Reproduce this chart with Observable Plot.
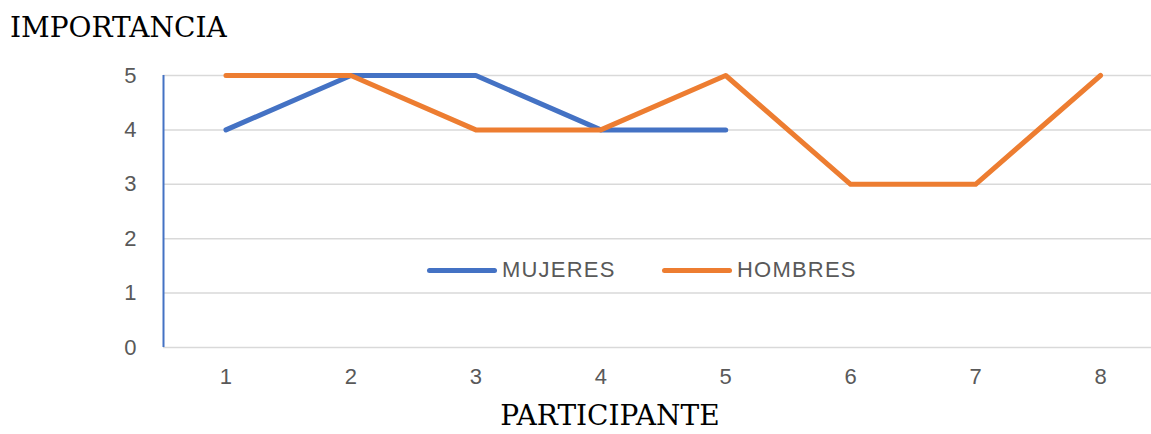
<!DOCTYPE html>
<html>
<head>
<meta charset="utf-8">
<script src="https://cdn.jsdelivr.net/npm/d3@7"></script>
<script src="https://cdn.jsdelivr.net/npm/@observablehq/plot@0.6"></script>
<style>
  html, body { margin: 0; padding: 0; background: #fff; }
  #wrap { position: relative; width: 1151px; height: 434px; overflow: hidden; }
  #wrap svg { position: absolute; left: 0; top: 0; }
  .ttl { position: absolute; font-family: "DejaVu Serif", "Liberation Serif", serif; font-size: 28px; line-height: 0.8; color: #000; white-space: nowrap; }
  #ytitle { left: 10px; top: 17px; }
  #xtitle { left: 610px; top: 405px; transform: translateX(-50%); }
  #legend { position: absolute; left: 427px; top: 256px; height: 28px; display: flex; align-items: center; font-family: "Liberation Sans", Arial, sans-serif; font-size: 22px; color: #595959; letter-spacing: 1.2px; }
  .item { display: flex; align-items: center; width: 235px; }
  .sw { width: 70px; height: 5px; border-radius: 3px; margin-right: 5px; }
</style>
</head>
<body>
<div id="wrap">
  <div id="ytitle" class="ttl">IMPORTANCIA</div>
  <div id="xtitle" class="ttl">PARTICIPANTE</div>
  <div id="legend"></div>
</div>
<script>
const participants = [1, 2, 3, 4, 5, 6, 7, 8];
const mujeres = [4, 5, 5, 4, 4];
const hombres = [5, 5, 4, 4, 5, 3, 3, 5];
const seriesNames = ["MUJERES", "HOMBRES"];
const seriesColors = ["#4472C4", "#ED7D31"];
const yTicks = [0, 1, 2, 3, 4, 5];
const xTicks = participants;

const rows = [
  ...mujeres.map((v, i) => ({participante: participants[i], valor: v, serie: "MUJERES"})),
  ...hombres.map((v, i) => ({participante: participants[i], valor: v, serie: "HOMBRES"}))
];

const xMin = 0.5;
const chart = Plot.plot({
  width: 1151,
  height: 434,
  marginTop: 75,
  marginBottom: 87,
  marginLeft: 163,
  marginRight: 0,
  style: {fontFamily: "Liberation Sans, Arial, sans-serif", fontSize: "22px", color: "#595959", background: "transparent"},
  x: {domain: [xMin, 8.408]},
  y: {domain: [0, 5]},
  color: {domain: seriesNames, range: seriesColors},
  marks: [
    Plot.gridY(yTicks, {stroke: "#d9d9d9", strokeOpacity: 1, strokeWidth: 1.5}),
    Plot.ruleX([xMin], {stroke: "#4472C4", strokeWidth: 2}),
    Plot.axisY({ticks: yTicks, tickSize: 0, tickPadding: 27, label: null, tickFormat: d => String(d)}),
    Plot.axisX({ticks: xTicks, tickSize: 0, tickPadding: 21, label: null, tickFormat: d => String(d)}),
    Plot.line(rows, {x: "participante", y: "valor", z: "serie", stroke: "serie", strokeWidth: 5, strokeLinejoin: "round", strokeLinecap: "round"})
  ]
});
document.getElementById("wrap").prepend(chart);

const legend = document.getElementById("legend");
seriesNames.forEach((name, i) => {
  const it = document.createElement("div");
  it.className = "item";
  const sw = document.createElement("div");
  sw.className = "sw";
  sw.style.background = seriesColors[i];
  const tx = document.createElement("span");
  tx.textContent = name;
  it.appendChild(sw);
  it.appendChild(tx);
  legend.appendChild(it);
});
</script>
</body>
</html>
